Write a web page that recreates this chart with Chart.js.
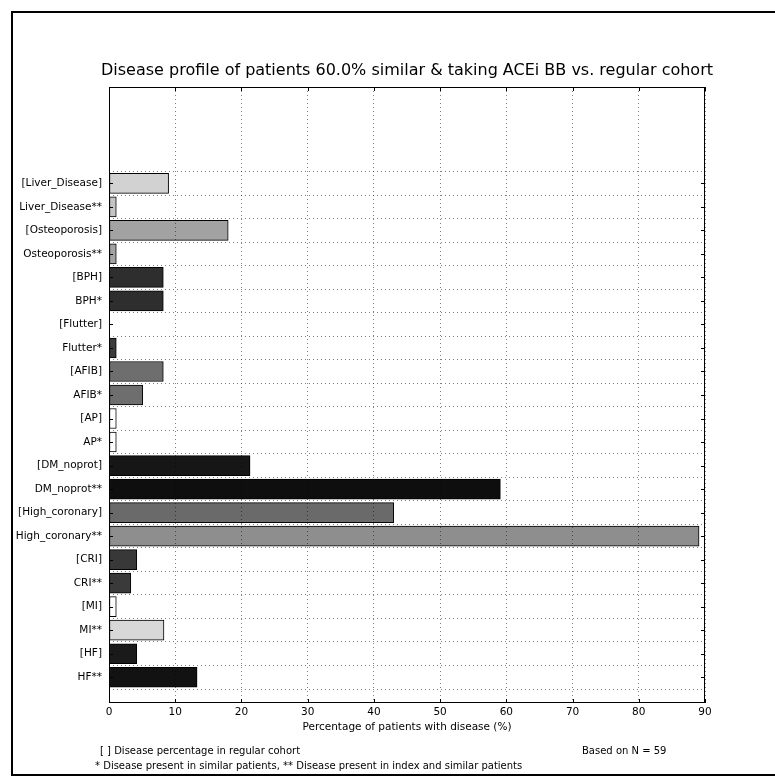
<!DOCTYPE html>
<html>
<head>
<meta charset="utf-8">
<script src="https://cdn.jsdelivr.net/npm/chart.js@4.4.1/dist/chart.umd.min.js"></script>
<style>
  html, body { margin: 0; padding: 0; background: #fff; }
  canvas { display: block; }
</style>
</head>
<body>
<canvas id="chart" width="775" height="776"></canvas>
<script>
// Disease rows, top to bottom
const categories = [
  '[Liver_Disease]', 'Liver_Disease**', '[Osteoporosis]', 'Osteoporosis**',
  '[BPH]', 'BPH*', '[Flutter]', 'Flutter*', '[AFIB]', 'AFIB*', '[AP]', 'AP*',
  '[DM_noprot]', 'DM_noprot**', '[High_coronary]', 'High_coronary**',
  '[CRI]', 'CRI**', '[MI]', 'MI**', '[HF]', 'HF**'
];
// Percentage of patients with each disease
const percentages = [
  9, 1.1, 18, 1.1,
  8.2, 8.2, 0, 1.1, 8.2, 5.1, 1.1, 1.1,
  21.3, 59.1, 43, 89.1,
  4.2, 3.3, 1.1, 8.3, 4.2, 13.3
];
const barColors = [
  '#d2d2d2', '#c4c4c4', '#a2a2a2', '#a2a2a2',
  '#2e2e2e', '#2e2e2e', '#3a3a3a', '#3a3a3a', '#6e6e6e', '#6e6e6e', '#ffffff', '#ffffff',
  '#161616', '#0e0e0e', '#6a6a6a', '#8e8e8e',
  '#383838', '#3a3a3a', '#ffffff', '#d8d8d8', '#1a1a1a', '#121212'
];
const xTicks = [0, 10, 20, 30, 40, 50, 60, 70, 80, 90];

const titleText = 'Disease profile of patients 60.0% similar & taking ACEi BB vs. regular cohort';
const xTitle = 'Percentage of patients with disease (%)';
const noteCohort = '[ ] Disease percentage in regular cohort';
const noteStars = '* Disease present in similar patients, ** Disease present in index and similar patients';
const noteN = 'Based on N = 59';

const FONT = "'DejaVu Sans', 'Liberation Sans', sans-serif";
const n = categories.length;
// row position on the y scale: first row at the top
const rowPos = categories.map((c, i) => n - 1 - i);

const framePlugin = {
  id: 'frame',
  afterDraw(chart) {
    const { ctx, chartArea: a, scales } = chart;
    ctx.save();
    // plot frame (all four spines)
    ctx.strokeStyle = '#000';
    ctx.lineWidth = 1;
    ctx.strokeRect(a.left + 0.5, a.top + 0.5, a.right - a.left - 1, a.bottom - a.top - 1);
    // inward tick marks on all four sides
    ctx.beginPath();
    xTicks.forEach(v => {
      const x = Math.round(scales.x.getPixelForValue(v)) + 0.5;
      ctx.moveTo(x, a.bottom); ctx.lineTo(x, a.bottom - 4);
      ctx.moveTo(x, a.top); ctx.lineTo(x, a.top + 4);
    });
    rowPos.forEach(v => {
      const y = Math.round(scales.y.getPixelForValue(v)) + 0.5;
      ctx.moveTo(a.left, y); ctx.lineTo(a.left + 4, y);
      ctx.moveTo(a.right, y); ctx.lineTo(a.right - 4, y);
    });
    ctx.stroke();

    // title
    ctx.fillStyle = '#000';
    ctx.font = '16px ' + FONT;
    ctx.textAlign = 'center';
    ctx.textBaseline = 'middle';
    ctx.fillText(titleText, (a.left + a.right) / 2, 71);

    // footnotes
    ctx.font = '10px ' + FONT;
    ctx.textAlign = 'left';
    ctx.fillText(noteCohort, 100, 751);
    ctx.fillText(noteStars, 95, 766);
    ctx.fillText(noteN, 582, 751);

    // outer figure border
    ctx.lineWidth = 2;
    ctx.strokeRect(12, 12, 790, 763);
    ctx.restore();
  }
};

new Chart(document.getElementById('chart'), {
  type: 'bar',
  data: {
    datasets: [{
      data: percentages.map((v, i) => ({ x: v, y: rowPos[i] })),
      backgroundColor: barColors,
      borderColor: '#000',
      borderWidth: 1,
      borderSkipped: false,
      barThickness: 20
    }]
  },
  options: {
    indexAxis: 'y',
    responsive: false,
    animation: false,
    layout: { padding: { top: 87, right: 70, bottom: 42, left: 0 } },
    plugins: { legend: { display: false }, tooltip: { enabled: false } },
    scales: {
      x: {
        type: 'linear',
        position: 'bottom',
        min: 0,
        max: 90,
        afterBuildTicks: s => { s.ticks = xTicks.map(v => ({ value: v })); },
        afterFit: s => { s.height = 31; },
        ticks: { color: '#000', padding: 3, font: { family: FONT, size: 10.5 } },
        grid: { color: 'rgba(0,0,0,0.5)', drawTicks: false, z: 1 },
        border: { display: false, dash: [1, 3] },
        title: { display: true, text: xTitle, color: '#000', padding: 0, font: { family: FONT, size: 10.5 } }
      },
      y: {
        type: 'linear',
        position: 'left',
        min: -0.5,
        max: 24.5,
        afterBuildTicks: s => { s.ticks = rowPos.map(v => ({ value: v })); },
        afterFit: s => { s.width = 109; },
        ticks: {
          color: '#000',
          padding: 7,
          font: { family: FONT, size: 10.5 },
          callback: v => categories[n - 1 - v]
        },
        grid: { color: 'rgba(0,0,0,0.5)', drawTicks: false, z: 1 },
        border: { display: false, dash: [1, 3] }
      }
    }
  },
  plugins: [framePlugin]
});
</script>
</body>
</html>
